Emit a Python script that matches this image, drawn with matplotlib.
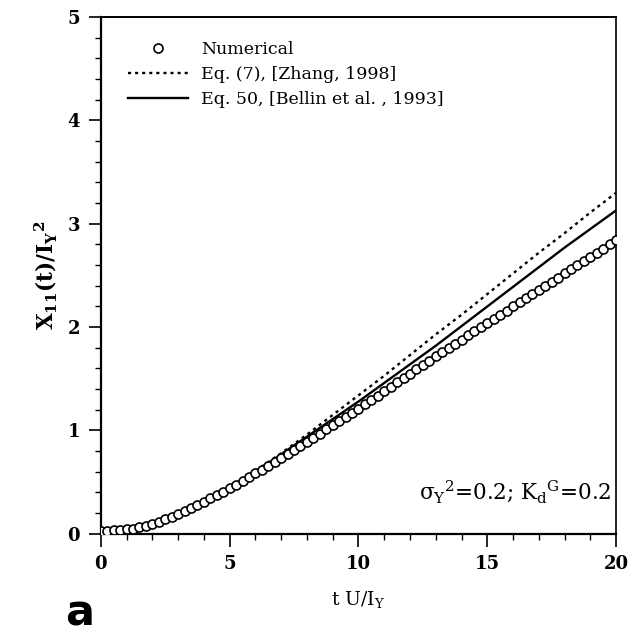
import numpy as np
import matplotlib
matplotlib.use('Agg')
import matplotlib.pyplot as plt

plt.rcParams['font.family'] = ['DejaVu Serif']
plt.rcParams['mathtext.fontset'] = 'dejavuserif'

# numerical result, one marker every 0.25 t U/I_Y
t_num = np.arange(0, 20.01, 0.25)
x11_num = [0.030, 0.031, 0.033, 0.037, 0.043, 0.051, 0.062, 0.077, 0.095,
           0.115, 0.140, 0.166, 0.194, 0.222, 0.251, 0.280, 0.310, 0.342,
           0.375, 0.407, 0.440, 0.475, 0.510, 0.547, 0.585, 0.622, 0.660,
           0.697, 0.735, 0.772, 0.810, 0.850, 0.890, 0.930, 0.970, 1.010,
           1.050, 1.090, 1.130, 1.170, 1.210, 1.252, 1.295, 1.337, 1.380,
           1.422, 1.465, 1.507, 1.550, 1.592, 1.635, 1.677, 1.720, 1.760,
           1.800, 1.840, 1.880, 1.920, 1.960, 2.000, 2.040, 2.080, 2.120,
           2.160, 2.200, 2.240, 2.280, 2.320, 2.360, 2.400, 2.440, 2.480,
           2.520, 2.560, 2.600, 2.640, 2.680, 2.720, 2.760, 2.800, 2.840]

# analytical curves
t_eq = np.arange(0, 21, 1)
x11_zhang = [0.00, 0.02, 0.07, 0.16, 0.28, 0.43, 0.61, 0.78, 0.96, 1.15, 1.34,
             1.53, 1.73, 1.93, 2.12, 2.32, 2.52, 2.72, 2.91, 3.11, 3.30]
x11_bellin = [0.00, 0.02, 0.07, 0.16, 0.29, 0.44, 0.60, 0.77, 0.94, 1.11, 1.28,
              1.46, 1.64, 1.82, 2.01, 2.20, 2.39, 2.58, 2.77, 2.95, 3.13]

labels = ['Numerical', 'Eq. (7), [Zhang, 1998]', 'Eq. 50, [Bellin et al. , 1993]']

fig = plt.figure(figsize=(6.3, 6.34), dpi=100)
ax = fig.add_axes([0.160, 0.158, 0.818, 0.815])

ax.plot(t_num, x11_num, 'o', markersize=6.5, markerfacecolor='white',
        markeredgecolor='k', markeredgewidth=1.2, label=labels[0], zorder=3)
ax.plot(t_eq, x11_zhang, color='k', linestyle=(0, (1.3, 1.7)), linewidth=1.7,
        label=labels[1])
ax.plot(t_eq, x11_bellin, color='k', linestyle='-', linewidth=1.7, label=labels[2])

ax.set_xlim(0, 20)
ax.set_ylim(0, 5)
ax.set_xticks([0, 5, 10, 15, 20])
ax.set_xticks(np.arange(0, 21, 1), minor=True)
ax.set_yticks([0, 1, 2, 3, 4, 5])
ax.set_yticks(np.arange(0, 5.01, 0.2), minor=True)
ax.tick_params(which='major', direction='out', length=9, width=1.2,
               labelsize=13, pad=6)
ax.tick_params(which='minor', direction='out', length=4.5, width=1.0)
for lab in ax.get_xticklabels() + ax.get_yticklabels():
    lab.set_fontweight('bold')

for side in ['left', 'bottom']:
    ax.spines[side].set_linewidth(1.6)
ax.spines['top'].set_linewidth(1.4)
ax.spines['right'].set_linewidth(1.2)

ax.set_xlabel(r'$\mathregular{t\ U/I_Y}$', fontsize=13.5, labelpad=12)
ax.set_ylabel(r'$\mathbf{X_{11}(t)/I_Y{}^2}$', fontsize=15.5, labelpad=6)

leg = ax.legend(loc='upper left', frameon=False, fontsize=12.5,
                handlelength=3.5, handletextpad=0.75, labelspacing=0.45,
                borderpad=0, borderaxespad=0, bbox_to_anchor=(0.052, 0.953))

ax.text(0.99, 0.055, r'$\mathregular{\sigma_Y{}^2}$=0.2; K$\mathregular{_d{}^G}$=0.2',
        transform=ax.transAxes, ha='right', va='bottom', fontsize=15.5)

fig.text(0.103, 0.0, 'a', fontsize=31, fontweight='bold',
         family='DejaVu Sans', ha='left', va='bottom')

fig.savefig('out.png', dpi=100)
